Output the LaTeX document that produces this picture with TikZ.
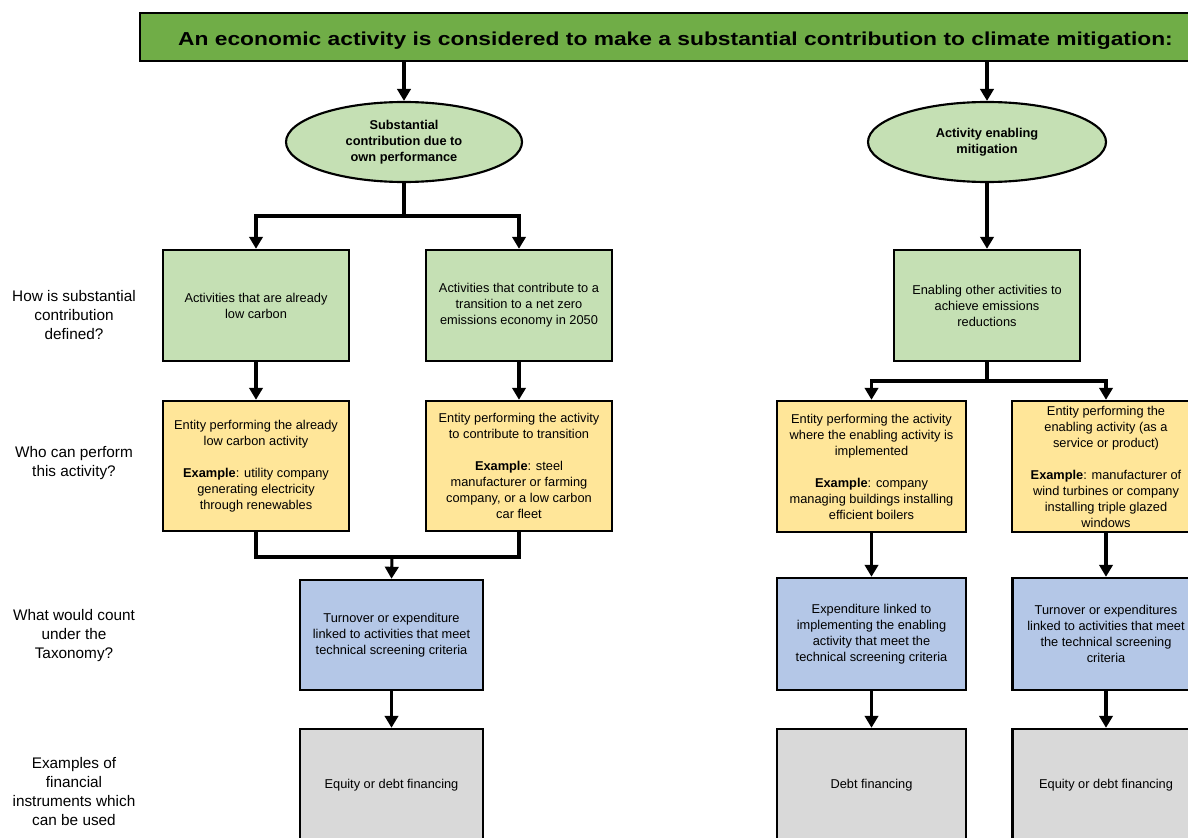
\documentclass[tikz,border=0pt]{standalone}
\usepackage{fontspec}
\usepackage{graphicx}
\setmainfont{Liberation Sans}
\usetikzlibrary{arrows.meta,shapes.geometric}
\definecolor{titlegreen}{HTML}{70AD47}
\definecolor{lightgreen}{HTML}{C5E0B4}
\definecolor{lightyellow}{HTML}{FFE699}
\definecolor{lightblue}{HTML}{B4C7E7}
\definecolor{lightgrey}{HTML}{D9D9D9}
\tikzset{
  boxbase/.style={draw=black, line width=1.8pt, rectangle, align=center, inner sep=0pt,
    font=\fontsize{9.6}{12}\selectfont},
  greenbox/.style={boxbase, fill=lightgreen, minimum width=139.5pt, minimum height=83.25pt},
  yellowbox/.style={boxbase, fill=lightyellow, minimum width=139.5pt, minimum height=97.5pt},
  bluebox/.style={boxbase, fill=lightblue, minimum width=141.75pt, minimum height=84pt},
  greybox/.style={boxbase, fill=lightgrey, minimum width=141.75pt, minimum height=84pt},
  oval/.style={draw=black, line width=1.6pt, ellipse, fill=lightgreen, align=center, inner sep=0pt,
    minimum width=177pt, minimum height=60pt, font=\fontsize{9.6}{12}\selectfont\bfseries},
  rowlabel/.style={align=center, font=\fontsize{11.5}{14.25}\selectfont},
  arr/.style={line width=2.3pt, -{Triangle[width=10pt,length=9pt]}},
  ln/.style={line width=2.3pt}
}
\begin{document}
\begin{tikzpicture}[x=0.75pt,y=-0.75pt]
\useasboundingbox (0,0) rectangle (1188,838);
\clip (0,0) rectangle (1188,838);
% title
\node[draw=black, line width=1.8pt, fill=titlegreen, rectangle, inner sep=0pt,
  minimum width=798.75pt, minimum height=36pt] (title) at (672.5,37) {};
\node[anchor=base, inner sep=0pt] (titletext) at (675.5,45.5)
  {\resizebox{746pt}{10.2pt}{\bfseries An economic activity is considered to make a substantial contribution to climate mitigation:}};
% ellipses
\node[oval] (e1) at (404,142) {Substantial\\contribution due to\\own performance};
\node[oval, minimum width=178.5pt] (e2) at (987,142) {Activity enabling\\mitigation};
% green boxes
\node[greenbox] (A) at (256,305.5) {Activities that are already\\low carbon};
\node[greenbox] (B) at (519,305.5) {Activities that contribute to a\\transition to a net zero\\emissions economy in 2050};
\node[greenbox] (C) at (987,305.5) {Enabling other activities to\\achieve emissions\\reductions};
% yellow boxes
\node[yellowbox] (D) at (256,466) {Entity performing the already\\low carbon activity\\[12pt]\textbf{Example}: utility company\\generating electricity\\through renewables};
\node[yellowbox] (E) at (519,466) {Entity performing the activity\\to contribute to transition\\[12pt]\textbf{Example}: steel\\manufacturer or farming\\company, or a low carbon\\car fleet};
\node[yellowbox, minimum width=141.75pt, minimum height=98.25pt] (F) at (871.5,466.5) {Entity performing the activity\\where the enabling activity is\\implemented\\[12pt]\textbf{Example}: company\\managing buildings installing\\efficient boilers};
\node[yellowbox, minimum width=141pt, minimum height=98.25pt] (G) at (1106,466.5) {Entity performing the\\enabling activity (as a\\service or product)\\[12pt]\textbf{Example}: manufacturer of\\wind turbines or company\\installing triple glazed\\windows};
% blue boxes
\node[bluebox, minimum width=137.25pt, minimum height=82.5pt] (H) at (391.5,635) {Turnover or expenditure\\linked to activities that meet\\technical screening criteria};
\node[bluebox] (J) at (871.5,634) {Expenditure linked to\\implementing the enabling\\activity that meet the\\technical screening criteria};
\node[bluebox, minimum width=140.25pt] (K) at (1106,634) {Turnover or expenditures\\linked to activities that meet\\the technical screening\\criteria};
% grey boxes
\node[greybox, minimum width=137.25pt] (I) at (391.5,785) {Equity or debt financing};
\node[greybox] (L) at (871.5,785) {Debt financing};
\node[greybox, minimum width=140.25pt] (M) at (1106,785) {Equity or debt financing};
% row labels
\node[rowlabel] (r1) at (74,315) {How is substantial\\contribution\\defined?};
\node[rowlabel] (r2) at (74,463.5) {Who can perform\\this activity?};
\node[rowlabel] (r3) at (74,636) {What would count\\under the\\Taxonomy?};
\node[rowlabel] (r4) at (74,791.5) {Examples of\\financial\\instruments which\\can be used};
% junction coordinates
\coordinate (j1) at (404,216);
\coordinate (j2) at (987,381);
\coordinate (j3) at (392,557);
% connectors
\draw[arr] (title.south -| e1.north) -- (e1.north);
\draw[arr] (title.south -| e2.north) -- (e2.north);
\draw[ln] (e1.south) -- (j1);
\draw[arr] (j1) -| (A.north);
\draw[arr] (j1) -| (B.north);
\draw[arr] (e2.south) -- (C.north);
\draw[arr] (A.south) -- (D.north);
\draw[arr] (B.south) -- (E.north);
\draw[ln] (C.south) -- (j2);
\draw[arr] (j2) -| (F.north);
\draw[arr] (j2) -| (G.north);
\draw[ln] (D.south) |- (j3);
\draw[ln] (E.south) |- (j3);
\draw[arr] (j3) -- (H.north);
\draw[arr] (H.south) -- (I.north);
\draw[arr] (F.south) -- (J.north);
\draw[arr] (G.south) -- (K.north);
\draw[arr] (J.south) -- (L.north);
\draw[arr] (K.south) -- (M.north);
\end{tikzpicture}
\end{document}
